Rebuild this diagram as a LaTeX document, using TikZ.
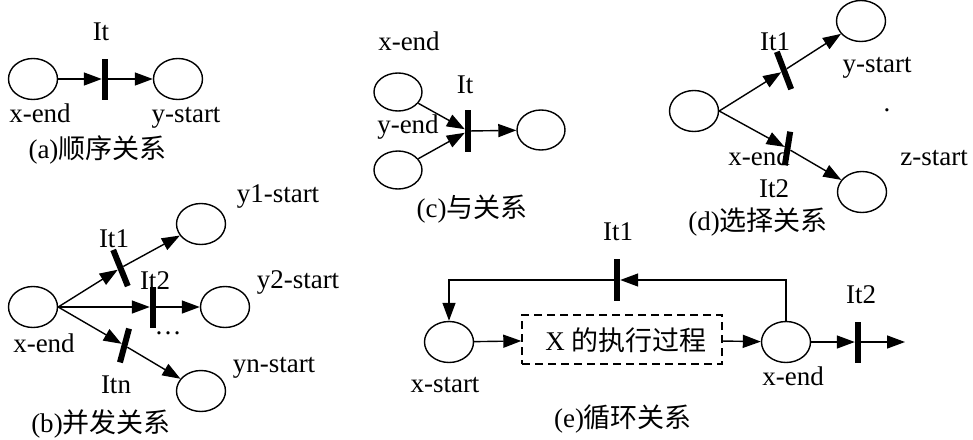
\documentclass[tikz,border=0pt]{standalone}
\usepackage{fontspec}
\setmainfont{Liberation Serif}
\newfontfamily\cjk{Noto Sans CJK SC}
\usetikzlibrary{arrows.meta,shapes.geometric}
\tikzset{
  place/.style={draw,ellipse,line width=1.4pt,minimum width=49pt,minimum height=41pt,inner sep=0pt},
  smallplace/.style={place,minimum width=48pt,minimum height=38pt},
  tbar/.style={rectangle,fill=black,minimum width=6pt,minimum height=41pt,inner sep=0pt},
  arr/.style={line width=1.4pt,-{Triangle[length=18pt,width=13pt]}},
  lab/.style={font=\fontsize{27}{32}\selectfont,inner sep=0pt,anchor=base},
  procbox/.style={draw,dash pattern=on 8pt off 5pt,line width=1.4pt,minimum width=200pt,minimum height=49pt,inner sep=0pt}
}
\begin{document}
\begin{tikzpicture}[x=1pt,y=-1pt]
\useasboundingbox (0,0) rectangle (973,439);
% (a)
\node[place] (a1) at (33,79) {};
\node[tbar] (ab) at (105,79) {};
\node[place] (a2) at (178,79) {};
\draw[arr] (a1) -- (ab);
\draw[arr] (ab) -- (a2);
\node[lab] (aIt) at (101,40) {It};
\node[lab] (axe) at (40,122) {x-end};
\node[lab] (ays) at (186,122) {y-start};
\node[lab] (acap) at (97.5,158) {(a){\cjk 顺序关系}};
% (b)
\node[place] (bx) at (33,307) {};
\node[place] (by1) at (201,224) {};
\node[place] (by2) at (225,307) {};
\node[place] (byn) at (201,391) {};
\node[tbar,minimum height=39pt,rotate=22] (bb1) at (120.5,268) {};
\node[tbar] (bb2) at (153,307) {};
\node[tbar,minimum height=35pt,rotate=-15] (bbn) at (124.5,345.5) {};
\draw[arr] (bx.east) -- (bb1);
\draw[arr] (bb1) -- (by1);
\draw[arr] (bx.east) -- (bb2);
\draw[arr] (bb2) -- (by2);
\draw[arr] (bx.east) -- (bbn);
\draw[arr] (bbn) -- (byn);
\node[lab] (by1l) at (278,202) {y1-start};
\node[lab] (bIt1) at (114,247) {It1};
\node[lab] (bIt2) at (155,289) {It2};
\node[lab] (by2l) at (298,288) {y2-start};
\node[lab] (bdots) at (168,334) {…};
\node[lab] (bxl) at (44,352) {x-end};
\node[lab] (bItn) at (116,393) {Itn};
\node[lab] (bynl) at (274,372) {yn-start};
\node[lab] (bcap) at (101,432) {(b){\cjk 并发关系}};
% (c)
\node[smallplace] (c1) at (398,92) {};
\node[smallplace] (c2) at (398,170) {};
\node[smallplace,minimum height=40pt] (c3) at (541,130) {};
\node[tbar,minimum height=42pt] (cb) at (468,131) {};
\draw[arr] (c1) -- (cb);
\draw[arr] (c2) -- (cb);
\draw[arr] (cb) -- (c3);
\node[lab] (cxl) at (409,50) {x-end};
\node[lab] (cIt) at (465,93) {It};
\node[lab] (cyl) at (408,133) {y-end};
\node[lab] (ccap) at (472,217) {(c){\cjk 与关系}};
% (d)
\node[place] (dx) at (694,111) {};
\node[place] (dy) at (861,21) {};
\node[place] (dz) at (862,192) {};
\node[tbar,minimum height=40pt,rotate=21] (db1) at (784,70.5) {};
\node[tbar,minimum height=34pt,rotate=-9] (db2) at (787.5,148.5) {};
\draw[arr] (dx.east) -- (db1);
\draw[arr] (db1) -- (dy);
\draw[arr] (dx.east) -- (db2);
\draw[arr] (db2) -- (dz);
\node[lab] (dIt1) at (775,50) {It1};
\node[lab] (dyl) at (877,72) {y-start};
\node[lab] (ddot) at (887,111) {.};
\node[lab] (dxl) at (759,165) {x-end};
\node[lab] (dzl) at (934,165) {z-start};
\node[lab] (dIt2) at (774,197) {It2};
\node[lab] (dcap) at (758,230) {(d){\cjk 选择关系}};
% (e)
\node[place] (exs) at (449,342) {};
\node[procbox] (ebox) at (622,339.5) {};
\node[lab] (eboxl) at (626,350) {X {\cjk 的执行过程}};
\node[place] (exe) at (786,342) {};
\node[tbar,minimum height=42pt] (eb1) at (617,280) {};
\node[tbar] (eb2) at (858,342) {};
\coordinate (eend) at (905,342);
\draw[arr] (exs) -- (ebox);
\draw[arr] (ebox) -- (exe);
\draw[arr] (exe.north) |- (eb1);
\draw[arr] (eb1) -| (exs.north);
\draw[arr] (exe) -- (eb2);
\draw[arr] (eb2) -- (eend);
\node[lab] (eIt1) at (618,240) {It1};
\node[lab] (eIt2) at (861,303) {It2};
\node[lab] (exsl) at (445,392) {x-start};
\node[lab] (exel) at (793,385) {x-end};
\node[lab] (ecap) at (623,427) {(e){\cjk 循环关系}};
\end{tikzpicture}
\end{document}
